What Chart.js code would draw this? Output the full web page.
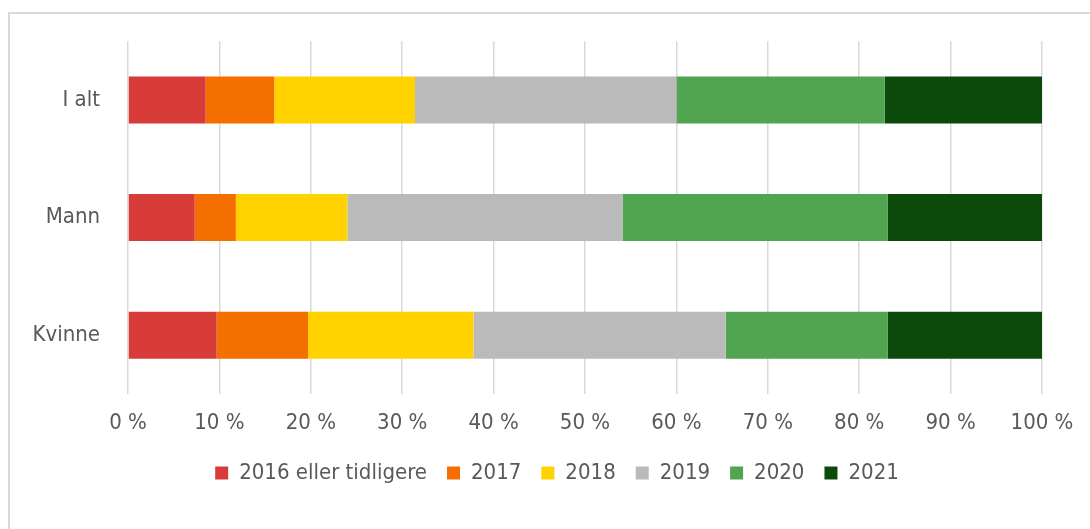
<!DOCTYPE html>
<html>
<head>
<meta charset="utf-8">
<script src="https://cdn.jsdelivr.net/npm/chart.js@4.4.1/dist/chart.umd.min.js"></script>
<style>
  html, body { margin: 0; padding: 0; background: #ffffff; }
  #wrap { position: relative; width: 1090px; height: 529px; overflow: hidden; }
  #frame { position: absolute; left: 8px; top: 12px; width: 1200px; height: 600px;
           border-left: 2px solid #d9d9d9; border-top: 2px solid #d9d9d9; }
  #c { position: absolute; left: 0; top: 0; }
</style>
</head>
<body>
<div id="wrap">
  <div id="frame"></div>
  <canvas id="c" width="1090" height="529"></canvas>
</div>
<script>
const categories = ['I alt', 'Mann', 'Kvinne'];
const seriesNames = ['2016 eller tidligere', '2017', '2018', '2019', '2020', '2021'];
const s2016 = [8.5, 7.3, 9.7];
const s2017 = [7.5, 4.5, 10.0];
const s2018 = [15.4, 12.2, 18.1];
const s2019 = [28.6, 30.1, 27.6];
const s2020 = [22.8, 29.0, 17.7];
const s2021 = [17.2, 17.0, 16.9];
const tickLabels = ['0 %', '10 %', '20 %', '30 %', '40 %', '50 %', '60 %', '70 %', '80 %', '90 %', '100 %'];
const colors = ['#D83C38', '#F56E00', '#FFD200', '#BABABA', '#51A551', '#0C4A0C'];

const seriesValues = [s2016, s2017, s2018, s2019, s2020, s2021];
const FONT = "'DejaVu Sans Condensed', 'DejaVu Sans', sans-serif";

const datasets = seriesNames.map((name, i) => ({
  label: name,
  data: seriesValues[i],
  backgroundColor: colors[i],
  borderWidth: 0,
  barPercentage: 0.4,
  categoryPercentage: 1.0
}));

// place the legend slightly left of the plot centre, as in the original
const legendShift = {
  id: 'legendShift',
  afterLayout(chart) {
    const lg = chart.legend;
    if (!lg) return;
    const ca = chart.chartArea;
    const mid = (ca.left + ca.right) / 2 - 28;
    const cur = (lg.left + lg.right) / 2;
    const d = mid - cur;
    lg.left += d; lg.right += d;
  }
};

new Chart(document.getElementById('c'), {
  type: 'bar',
  data: { labels: categories, datasets },
  plugins: [legendShift],
  options: {
    indexAxis: 'y',
    responsive: false,
    animation: false,
    devicePixelRatio: 1,
    layout: { padding: { top: 41, right: 48, bottom: 35, left: 0 } },
    plugins: {
      tooltip: { enabled: false },
      legend: {
        position: 'bottom',
        labels: {
          boxWidth: 13,
          boxHeight: 13,
          padding: 20,
          color: '#595959',
          font: { family: FONT, size: 22 }
        }
      }
    },
    scales: {
      x: {
        stacked: true,
        min: 0,
        max: 100,
        afterFit: (scale) => { scale.height = 48; },
        ticks: {
          stepSize: 10,
          padding: 16,
          color: '#595959',
          font: { family: FONT, size: 22 },
          callback: (v, idx) => tickLabels[idx]
        },
        grid: { color: '#d9d9d9', lineWidth: 1.5, drawTicks: false },
        border: { display: false }
      },
      y: {
        stacked: true,
        afterFit: (scale) => { scale.width = 128; },
        ticks: {
          padding: 28,
          color: '#595959',
          font: { family: FONT, size: 22 }
        },
        grid: { display: false, drawTicks: false },
        border: { display: false }
      }
    }
  }
});
</script>
</body>
</html>
